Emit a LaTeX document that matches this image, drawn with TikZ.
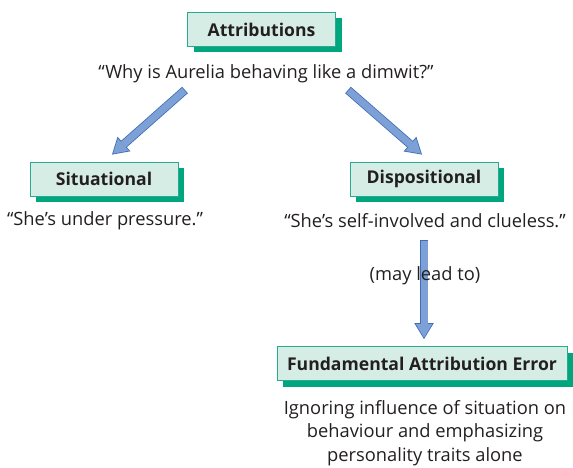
\documentclass[tikz,border=0pt]{standalone}
\usepackage{fontspec}
\setmainfont{Open Sans}
\usetikzlibrary{arrows.meta,shadows}
\definecolor{boxfill}{RGB}{214,237,230}
\definecolor{boxline}{RGB}{40,170,140}
\definecolor{boxshadow}{RGB}{0,166,126}
\definecolor{arrowfill}{RGB}{125,160,215}
\definecolor{arrowline}{RGB}{62,110,180}
\definecolor{textgray}{RGB}{35,31,32}

\begin{document}
\begin{tikzpicture}[x=1pt, y=-1pt, text=textgray,
  font=\fontsize{18.3}{23.5}\selectfont,
  attrbox/.style={draw=boxline, line width=0.8pt, fill=boxfill,
    minimum width=148pt, minimum height=34pt,
    font=\fontsize{17.6}{20}\selectfont\bfseries,
    drop shadow={shadow xshift=6pt, shadow yshift=-6pt, fill=boxshadow, opacity=1}},
  blockarrow/.style={line width=7pt, draw=arrowfill,
    shorten <=0.8pt, shorten >=1.5pt,
    -{Triangle[width=16.5pt,length=13.6pt,line width=0pt]},
    preaction={draw=arrowline, line width=8.6pt, shorten <=0pt, shorten >=0pt,
      -{Triangle[width=19.5pt,length=16pt,line width=0pt]}}}]

\useasboundingbox (0,0) rectangle (573,468);

% Cajas y textos
\node[attrbox] (attr) at (261.5,29.5) {Attributions};
\node (why) at (266,74) {“Why is Aurelia behaving like a dimwit?”};
\node[attrbox] (sit) at (104,179) {Situational};
\node (sitq) at (105,220.5) {“She’s under pressure.”};
\node[attrbox] (disp) at (424,179) {Dispositional};
\node (dispq) at (425,220.5) {“She’s self-involved and clueless.”};
\node[attrbox, minimum width=290pt] (fae) at (422,363.5) {Fundamental Attribution Error};
\node[align=center] (faetext) at (425,433) {Ignoring influence of situation on\\behaviour and emphasizing\\personality traits alone};

% Flechas
\coordinate (whyleft) at (185,90);
\coordinate (whyright) at (348,90);
\coordinate (dispdown) at (424,240);
\draw[blockarrow] (whyleft) -- ([xshift=8pt,yshift=7pt]sit.north);
\draw[blockarrow] (whyright) -- ([xshift=-2pt,yshift=7pt]disp.north);
\draw[blockarrow] (dispdown) -- ([xshift=2pt,yshift=7pt]fae.north);

\node (may) at (425,276) {(may lead to)};

\end{tikzpicture}
\end{document}
